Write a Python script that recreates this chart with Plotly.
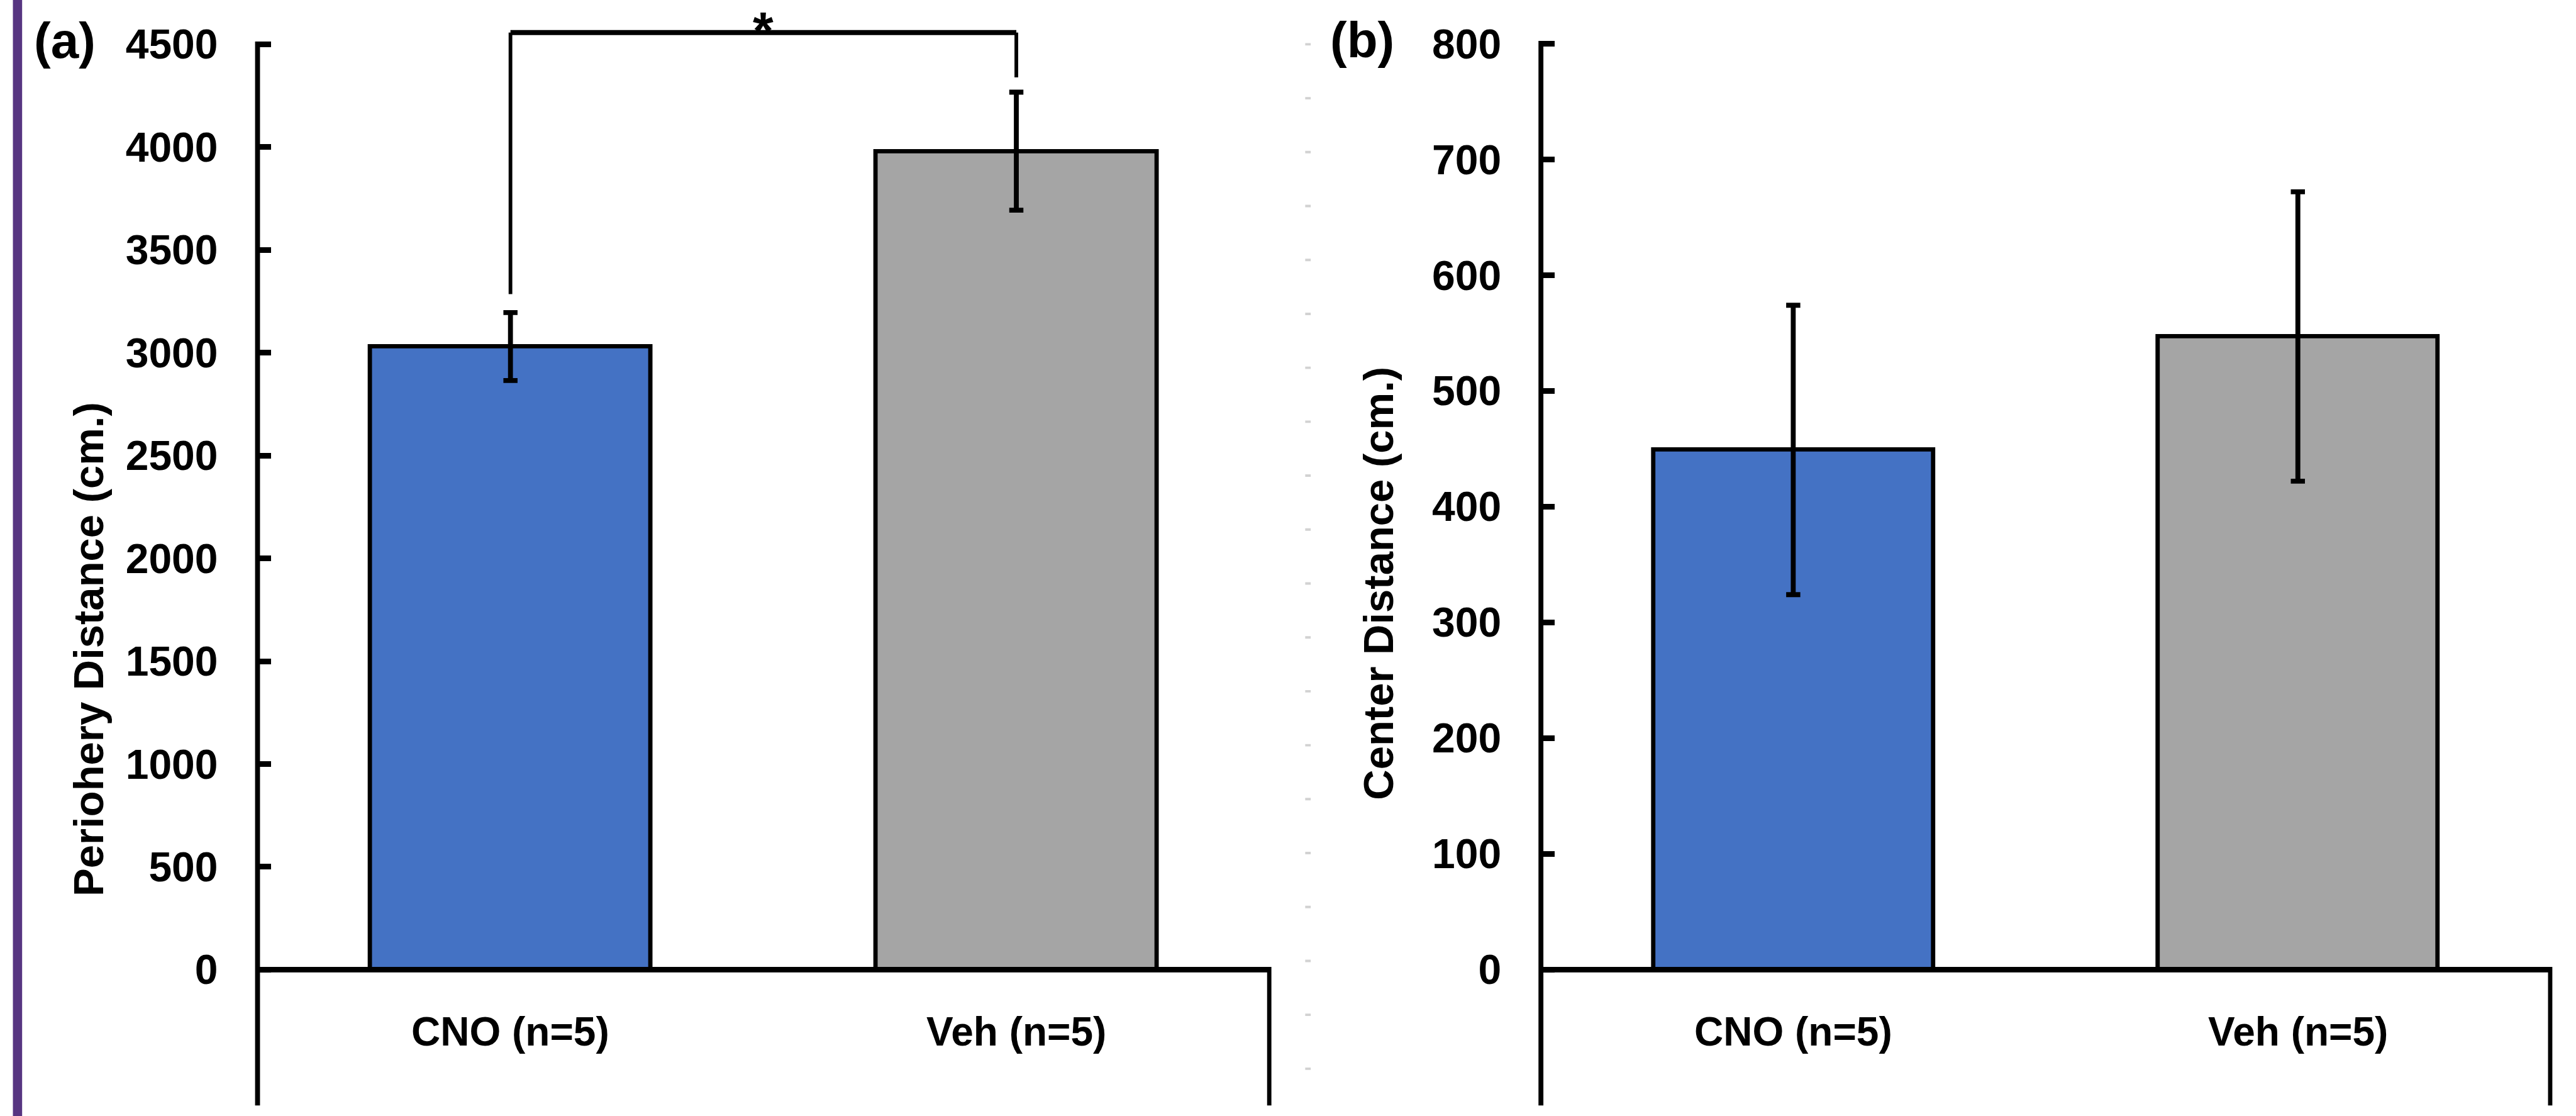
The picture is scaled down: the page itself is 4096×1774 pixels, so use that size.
import plotly.graph_objects as go

# ---------------- data ----------------
categories = ["CNO (n=5)", "Veh (n=5)"]
periphery_mean = [3030, 3980]
periphery_sem = [165, 287]
center_mean = [449, 547]
center_sem = [125, 125]
bar_colors = ["#4472C4", "#A5A5A5"]
periphery_ticks = [0, 500, 1000, 1500, 2000, 2500, 3000, 3500, 4000, 4500]
center_ticks = [0, 100, 200, 300, 400, 500, 600, 700, 800]
panel_labels = ["(a)", "(b)"]
y_titles = ["Periohery Distance (cm.)", "Center Distance (cm.)"]
sig_label = "*"

# ---------------- geometry (reference pixel space) ----------------
W, H = 4096, 1774
RW, RH = 4191, 1815
S = W / RW


def fx(x):
    return x / RW


def fy(y):
    return 1 - y / RH


ZERO_PX = 1577.0
BOTTOM_PX = 1798.0
TOP_PX = 10.0
pxu_a = (ZERO_PX - 72.0) / 4500.0   # px per unit, panel a
pxu_b = (ZERO_PX - 71.0) / 800.0    # px per unit, panel b
range_a = [(ZERO_PX - BOTTOM_PX) / pxu_a, (ZERO_PX - TOP_PX) / pxu_a]
range_b = [(ZERO_PX - BOTTOM_PX) / pxu_b, (ZERO_PX - TOP_PX) / pxu_b]
ydom = [fy(BOTTOM_PX), fy(TOP_PX)]
xdom_a = [fx(419), fx(2065)]
xdom_b = [fx(2507), fx(4149)]

FONT = "Liberation Sans, Arial, sans-serif"

fig = go.Figure()

fig.add_trace(go.Bar(
    x=categories, y=periphery_mean, width=0.555,
    marker=dict(color=bar_colors, line=dict(color="black", width=7 * S)),
    error_y=dict(type="data", array=periphery_sem, color="black",
                 thickness=8 * S, width=11.5 * S),
    xaxis="x", yaxis="y", showlegend=False, hoverinfo="skip"))

fig.add_trace(go.Bar(
    x=categories, y=center_mean, width=0.555,
    marker=dict(color=bar_colors, line=dict(color="black", width=7 * S)),
    error_y=dict(type="data", array=center_sem, color="black",
                 thickness=8 * S, width=11.5 * S),
    xaxis="x2", yaxis="y2", showlegend=False, hoverinfo="skip"))

xcommon = dict(showgrid=False, zeroline=False, showline=False, ticks="",
               showticklabels=False, range=[-0.5, 1.5], fixedrange=True)
ycommon = dict(showgrid=False, zeroline=False, showline=False, ticks="inside",
               ticklen=22 * S, tickwidth=9 * S, tickcolor="black",
               tickfont=dict(family=FONT, size=66, color="black", weight="bold"),
               ticklabelstandoff=62, fixedrange=True)

fig.update_layout(
    width=W, height=H,
    margin=dict(l=0, r=0, t=0, b=0),
    paper_bgcolor="white", plot_bgcolor="rgba(0,0,0,0)",
    bargap=0,
    xaxis=dict(domain=xdom_a, anchor="y", **xcommon),
    yaxis=dict(domain=ydom, anchor="x", range=range_a,
               tickvals=periphery_ticks, **ycommon),
    xaxis2=dict(domain=xdom_b, anchor="y2", **xcommon),
    yaxis2=dict(domain=ydom, anchor="x2", range=range_b,
                tickvals=center_ticks, **ycommon),
)

shapes = []
# purple border at far left
shapes.append(dict(type="rect", xref="paper", yref="paper", x0=fx(21), x1=fx(36),
                   y0=0, y1=1, fillcolor="#573581", line=dict(width=0), layer="below"))
# faint dotted separator
shapes.append(dict(type="line", xref="paper", yref="paper", x0=fx(2128), x1=fx(2128),
                   y0=fy(70), y1=fy(1745),
                   line=dict(color="#D2D2D2", width=9 * S,
                             dash=f"{4 * S:.2f}px,{83.7 * S:.2f}px")))

for xa, ya, rng, top, pxu in [("x", "y", range_a, periphery_ticks[-1], pxu_a),
                              ("x2", "y2", range_b, center_ticks[-1], pxu_b)]:
    # y axis line (runs from top tick down below the x axis)
    shapes.append(dict(type="line", xref=f"{xa} domain", yref=ya, x0=0, x1=0,
                       y0=rng[0], y1=top + 4.5 / pxu,
                       line=dict(color="black", width=8 * S)))
    # x axis line at zero
    shapes.append(dict(type="line", xref=f"{xa} domain", yref=ya, x0=0, x1=1,
                       y0=0, y1=0, line=dict(color="black", width=9 * S)))
    # right vertical below the x axis
    shapes.append(dict(type="line", xref=f"{xa} domain", yref=ya, x0=1, x1=1,
                       y0=rng[0], y1=4.5 / pxu,
                       line=dict(color="black", width=7 * S)))

# significance bracket (panel a)
br_top = 4557
left_foot = periphery_mean[0] + periphery_sem[0] + 90
right_foot = periphery_mean[1] + periphery_sem[1] + 72
bl = dict(color="black", width=8 * S)
shapes.append(dict(type="line", xref="x", yref="y", x0=categories[0], x1=categories[0],
                   y0=left_foot, y1=br_top, line=dict(color="black", width=6 * S)))
shapes.append(dict(type="line", xref="x", yref="y", x0=categories[1], x1=categories[1],
                   y0=right_foot, y1=br_top, line=dict(color="black", width=6 * S)))
shapes.append(dict(type="line", xref="x", yref="y", x0=categories[0], x1=categories[1],
                   y0=br_top, y1=br_top, line=bl))

fig.update_layout(shapes=shapes)

ann = []
big = dict(family=FONT, size=80, color="black", weight="bold")
lab = dict(family=FONT, size=64, color="black", weight="bold")
tit = dict(family=FONT, size=67, color="black", weight="bold")
ann.append(dict(text=panel_labels[0], xref="paper", yref="paper", x=fx(105), y=fy(66),
                showarrow=False, font=big, xanchor="center", yanchor="middle"))
ann.append(dict(text=panel_labels[1], xref="paper", yref="paper", x=fx(2216), y=fy(65),
                showarrow=False, font=big, xanchor="center", yanchor="middle"))
ann.append(dict(text=sig_label, xref="x domain", yref="paper", x=0.5, y=1.0,
                showarrow=False, font=dict(family=FONT, size=84, color="black", weight="bold"),
                xanchor="center", yanchor="top"))
for xa in ["x", "x2"]:
    for c in categories:
        ann.append(dict(text=c, xref=xa, yref="paper", x=c, y=fy(1678),
                        showarrow=False, font=lab, xanchor="center", yanchor="middle"))
ann.append(dict(text=y_titles[0], xref="paper", yref="paper", x=fx(143), y=fy(1056),
                textangle=-90, showarrow=False, font=tit,
                xanchor="center", yanchor="middle"))
ann.append(dict(text=y_titles[1], xref="paper", yref="paper", x=fx(2242), y=fy(949),
                textangle=-90, showarrow=False, font=tit,
                xanchor="center", yanchor="middle"))
fig.update_layout(annotations=ann)

fig.write_html("out.html", config={"displayModeBar": False},
               post_script="document.body.style.margin='0';document.body.style.overflow='hidden';")
